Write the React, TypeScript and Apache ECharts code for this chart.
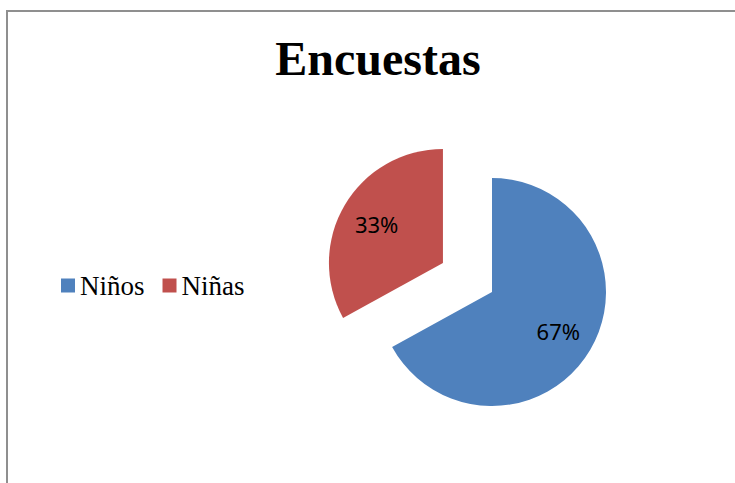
import React, { useEffect, useRef } from "react";
import * as echarts from "echarts";

const categories = ["Niños", "Niñas"];
const values = [67, 33];
const colors = ["#4F81BD", "#C0504D"];
const title = "Encuestas";

export default function App() {
  const ref = useRef<HTMLDivElement>(null);
  useEffect(() => {
    if (!ref.current) return;
    const chart = echarts.init(ref.current, undefined, { renderer: "svg" });
    const legendText = {
      fontFamily: "Liberation Serif, Times New Roman, serif",
      fontSize: 27,
      color: "#000000",
    };
    const mainData = categories.map((name, i) => ({
      name,
      value: values[i],
      selected: i === 1,
      itemStyle: { color: colors[i] },
    }));
    const labelData = categories.map((name, i) => ({
      name,
      value: values[i],
      selected: i === 1,
      itemStyle: { color: "rgba(0,0,0,0)" },
    }));
    chart.setOption({
      animation: false,
      backgroundColor: "#ffffff",
      title: {
        text: title,
        left: 373,
        top: 29,
        textAlign: "center",
        textStyle: {
          fontFamily: "Liberation Serif",
          fontWeight: "bold",
          fontSize: 48,
          color: "#000000",
        },
      },
      legend: {
        left: 56,
        top: 267,
        orient: "horizontal",
        icon: "rect",
        itemWidth: 14,
        itemHeight: 14,
        itemGap: 18,
        selectedMode: false,
        data: categories.map((name, i) => ({
          name,
          itemStyle: { color: colors[i] },
          textStyle: legendText,
        })),
        textStyle: legendText,
      },
      graphic: [
        {
          type: "line",
          shape: { x1: 7, y1: 11, x2: 735, y2: 11 },
          style: { stroke: "#8f8f8f", lineWidth: 2 },
          silent: true,
        },
        {
          type: "line",
          shape: { x1: 7, y1: 10, x2: 7, y2: 483 },
          style: { stroke: "#8f8f8f", lineWidth: 2 },
          silent: true,
        },
      ],
      series: [
        {
          type: "pie",
          center: [492, 292],
          radius: [0, 114],
          startAngle: 90,
          clockwise: true,
          selectedMode: "single",
          selectedOffset: 57,
          silent: true,
          label: { show: false },
          labelLine: { show: false },
          emphasis: { disabled: true },
          data: mainData,
        },
        {
          type: "pie",
          center: [492, 292],
          radius: [34, 114],
          startAngle: 90,
          clockwise: true,
          selectedMode: "single",
          selectedOffset: 57,
          silent: true,
          label: {
            show: true,
            position: "inside",
            formatter: "{d}%",
            fontFamily: "Noto Sans",
            fontSize: 22,
            color: "#000000",
          },
          labelLine: { show: false },
          emphasis: { disabled: true },
          data: labelData,
        },
      ],
    });
    return () => chart.dispose();
  }, []);
  return (
    <div
      ref={ref}
      style={{ position: "absolute", left: 0, top: 0, width: 735, height: 483 }}
    />
  );
}
